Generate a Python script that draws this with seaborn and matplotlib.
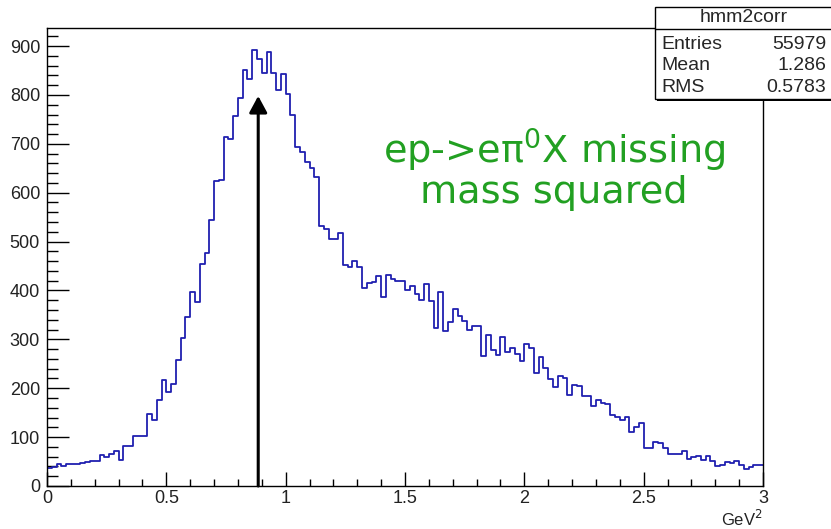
import numpy as np
import pandas as pd
import matplotlib
matplotlib.use("Agg")
import matplotlib.pyplot as plt
import seaborn as sns
from matplotlib.patches import Rectangle
from matplotlib.lines import Line2D
from matplotlib.ticker import MultipleLocator

# ---------------- data ----------------
counts = [
    37, 39, 44, 41, 46, 45, 46, 48, 50, 51,
    52, 63, 60, 66, 71, 54, 82, 82, 102, 103,
    103, 148, 136, 175, 216, 192, 209, 258, 302, 346,
    397, 376, 455, 476, 544, 625, 627, 714, 709, 757,
    793, 851, 832, 892, 873, 844, 888, 845, 810, 842,
    801, 759, 693, 684, 663, 651, 633, 531, 526, 506,
    505, 517, 452, 448, 461, 448, 406, 415, 418, 429,
    386, 432, 424, 420, 420, 402, 410, 392, 381, 413,
    378, 324, 396, 318, 336, 363, 348, 338, 319, 328,
    328, 266, 309, 278, 269, 304, 274, 282, 271, 256,
    290, 283, 232, 263, 241, 218, 203, 225, 221, 186,
    207, 205, 185, 184, 164, 175, 170, 167, 146, 141,
    135, 142, 111, 121, 128, 78, 78, 91, 88, 78,
    66, 65, 66, 72, 55, 60, 61, 53, 62, 52,
    40, 43, 50, 48, 52, 43, 35, 39, 43, 42,
]
x_range = (0.0, 3.0)
n_bins = 150
x_tick_values = [0, 0.5, 1, 1.5, 2, 2.5, 3]
x_tick_labels = ["0", "0.5", "1", "1.5", "2", "2.5", "3"]
y_tick_values = [0, 100, 200, 300, 400, 500, 600, 700, 800, 900]
x_unit = "GeV$^2$"
stats_title = "hmm2corr"
stats_labels = ["Entries", "Mean", "RMS"]
stats_values = ["55979", "1.286", "0.5783"]
annot_line1 = r"ep->e$\mathregular{\pi^0}$X missing"
annot_line2 = "mass squared"
arrow_x = 0.885
arrow_top = 798

edges = np.linspace(x_range[0], x_range[1], n_bins + 1)
centers = 0.5 * (edges[:-1] + edges[1:])
df = pd.DataFrame({"mm2": centers, "n": counts})

# ---------------- style ----------------
sns.set_theme(style="white")
plt.rcParams["font.family"] = ["Liberation Sans", "DejaVu Sans"]
plt.rcParams["mathtext.fontset"] = "dejavusans"

W, H = 831, 529
fig = plt.figure(figsize=(W / 100, H / 100), dpi=100)
fig.patch.set_facecolor("white")

L, R, T, B = 47, 763, 28, 486
ax = fig.add_axes([L / W, 1 - B / H, (R - L) / W, (B - T) / H])
ax.set_facecolor("white")

sns.histplot(data=df, x="mm2", weights="n", bins=n_bins, binrange=x_range,
             element="step", fill=False, color="#2020b0", linewidth=1.3, ax=ax)

ax.set_xlim(*x_range)
ax.set_ylim(0, 937)
ax.set_ylabel("")
ax.set_xlabel(x_unit, loc="right", fontsize=12, labelpad=1, color="#222222")

for s in ax.spines.values():
    s.set_color("black")
    s.set_linewidth(1.0)

ax.set_xticks(x_tick_values, labels=x_tick_labels)
ax.set_yticks(y_tick_values)
ax.xaxis.set_minor_locator(MultipleLocator(0.1))
ax.yaxis.set_minor_locator(MultipleLocator(20))
ax.tick_params(axis="x", which="major", direction="in", length=9.9, width=1.0,
               color="black", bottom=True, top=False, labelsize=13, pad=3,
               labelcolor="#222222")
ax.tick_params(axis="x", which="minor", direction="in", length=5.0, width=1.0,
               color="black", bottom=True, top=False)
ax.tick_params(axis="y", which="major", direction="in", length=15.5, width=1.0,
               color="black", left=True, right=False, labelsize=13, pad=5,
               labelcolor="#222222")
ax.tick_params(axis="y", which="minor", direction="in", length=7.8, width=1.0,
               color="black", left=True, right=False)

# arrow marking the peak
ax.annotate("", xy=(arrow_x, arrow_top), xytext=(arrow_x, 0),
            arrowprops=dict(arrowstyle="-|>,head_length=0.5,head_width=0.27",
                            color="black", lw=2.2, mutation_scale=20,
                            shrinkA=0, shrinkB=0))

# green annotation text
green = "#22a022"
fig.text(554 / W, 1 - 150 / H, annot_line1, color=green, fontsize=27.5,
         ha="center", va="center", family="DejaVu Sans")
fig.text(554 / W, 1 - 193 / H, annot_line2, color=green, fontsize=27.5,
         ha="center", va="center", family="DejaVu Sans")

# stats box (ROOT style)
bx0, by0, bx1, by1 = 655, 7, 845, 99
fig.add_artist(Rectangle((bx0 / W + 2 / W, 1 - (by1 + 2) / H), (bx1 - bx0) / W,
                         (by1 - by0) / H, transform=fig.transFigure,
                         facecolor="black", edgecolor="none", zorder=9))
fig.add_artist(Rectangle((bx0 / W, 1 - by1 / H), (bx1 - bx0) / W, (by1 - by0) / H,
                         transform=fig.transFigure, facecolor="white",
                         edgecolor="black", linewidth=1.0, zorder=10))
fig.add_artist(Line2D([bx0 / W, 1.0], [1 - 29 / H, 1 - 29 / H],
                      transform=fig.transFigure, color="black", lw=1.0, zorder=11))
fig.text(744 / W, 1 - 18 / H, stats_title, fontsize=14, ha="center",
         va="center", zorder=12)
row_y = [44.5, 66, 88]
for lab, val, yy in zip(stats_labels, stats_values, row_y):
    fig.text(661 / W, 1 - yy / H, lab, fontsize=14, ha="left", va="center", zorder=12)
    fig.text(826 / W, 1 - yy / H, val, fontsize=14, ha="right", va="center", zorder=12)

fig.savefig("out.png", dpi=100, facecolor="white")
